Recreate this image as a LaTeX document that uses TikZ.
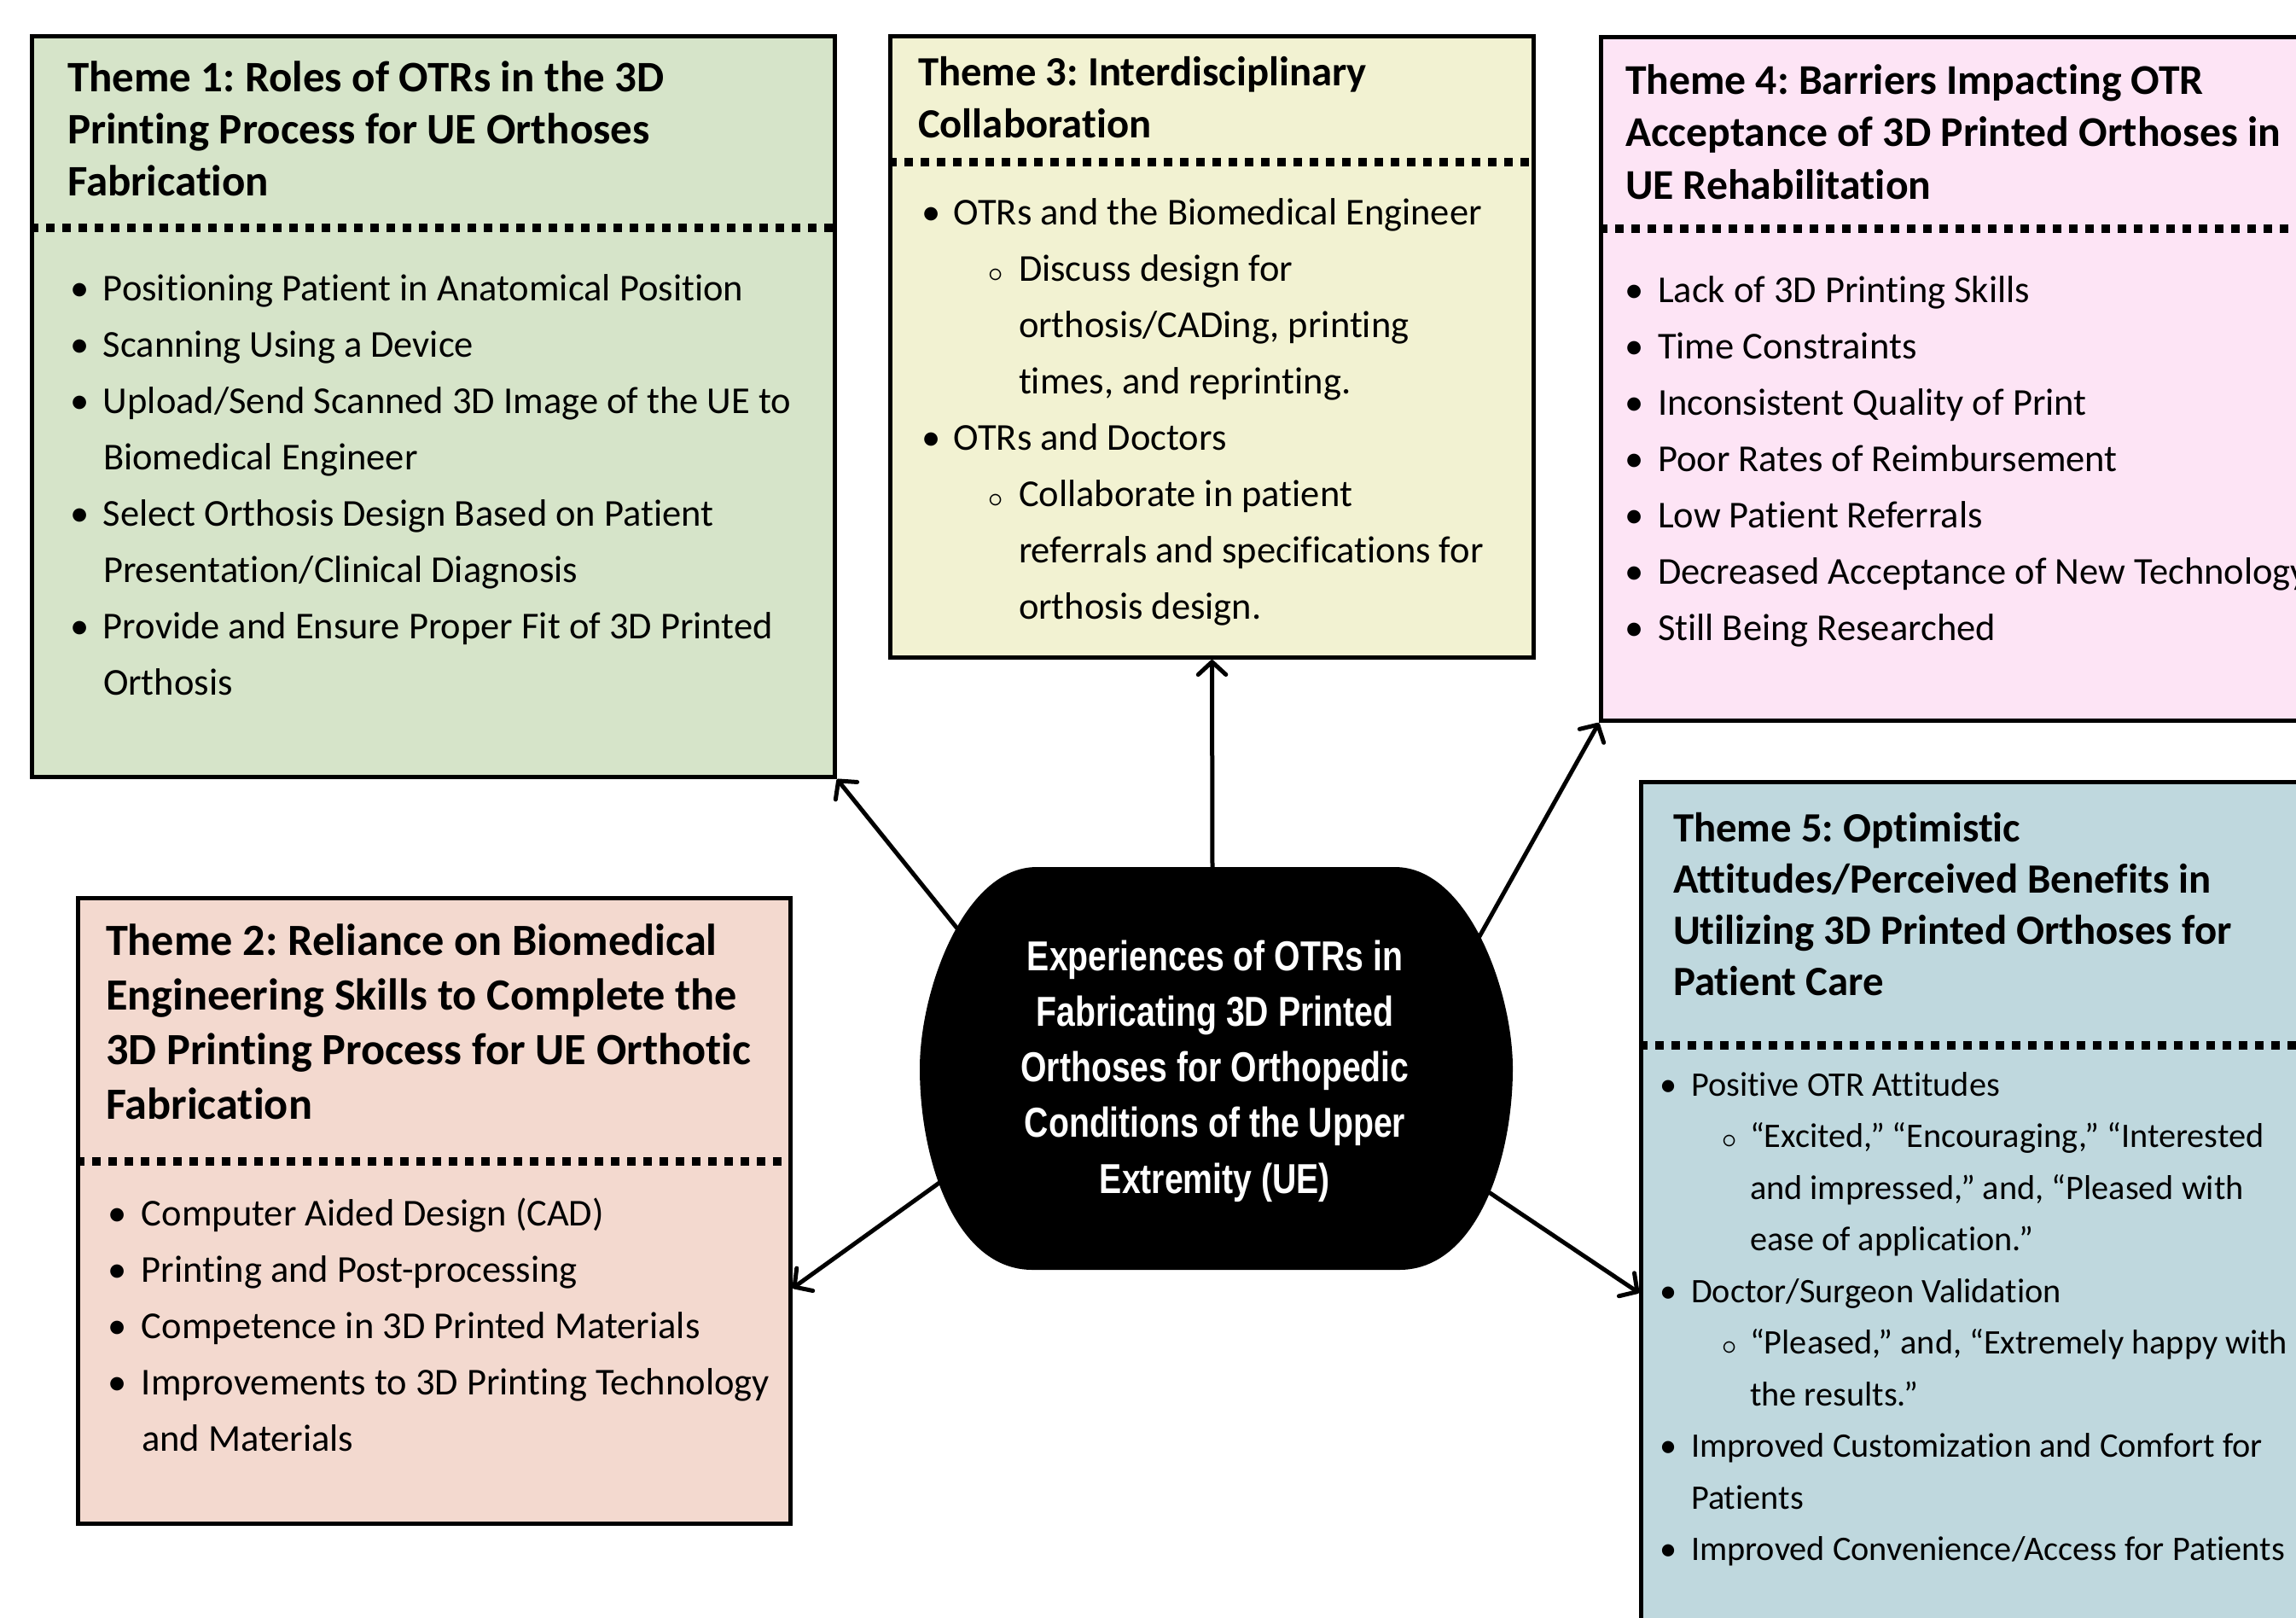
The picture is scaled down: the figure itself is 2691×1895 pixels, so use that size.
\documentclass[tikz,border=0pt]{standalone}
\usepackage{fontspec}
\setmainfont{Carlito}[Ligatures={NoCommon,NoRare}]
\newfontfamily\corefont[FakeStretch=0.8]{Liberation Sans}
\usetikzlibrary{arrows.meta}
\frenchspacing
\definecolor{gOne}{HTML}{D6E4C9}
\definecolor{gTwo}{HTML}{F3D9CF}
\definecolor{gThree}{HTML}{F2F2D2}
\definecolor{gFour}{HTML}{FDE4F5}
\definecolor{gFive}{HTML}{BFD8DE}
\newlength\lenBa \newlength\lenBb \newlength\lenBc
\newcommand\itA[1]{\par\noindent\hangindent=\lenBa\hangafter=1\makebox[\lenBa][l]{•}#1}
\newcommand\itB[1]{\par\noindent\hangindent=\lenBc\hangafter=1\hspace*{\lenBb}\makebox[\dimexpr\lenBc-\lenBb\relax][l]{$\scriptstyle\circ$}#1}
\tikzset{
  themebox/.style={draw=black, line width=1pt, inner sep=0pt, anchor=north west},
  divider/.style={line width=2pt, dash pattern=on 2pt off 1.8pt},
  link/.style={line width=1pt, -{Straight Barb[length=3pt,width=6.5pt,round]}},
  txt/.style={inner sep=0pt, anchor=base west, align=left},
}
\begin{document}
\begin{tikzpicture}[x=0.2pt,y=-0.2pt]
\path[use as bounding box] (0,0) rectangle (2691,1895);
\clip (0,0) rectangle (2691,1895);
% theme boxes
\node[themebox, fill=gOne,   minimum width=188.2pt, minimum height=173.6pt] (b1) at (35,40) {};
\node[themebox, fill=gThree, minimum width=150.8pt, minimum height=145.6pt] (b3) at (1041,40) {};
\node[themebox, fill=gFour,  minimum width=171.2pt, minimum height=160.2pt] (b4) at (1874,41) {};
\node[themebox, fill=gFive,  minimum width=161.8pt, minimum height=203.2pt] (b5) at (1921,914) {};
\node[themebox, fill=gTwo,   minimum width=167pt,   minimum height=146.6pt] (b2) at (89,1050) {};
% dividers
\draw[divider] ([yshift=-45.4pt]b1.north west) -- ([yshift=-45.4pt]b1.north east);
\draw[divider] ([yshift=-30pt]b3.north west) -- ([yshift=-30pt]b3.north east);
\draw[divider] ([yshift=-45.4pt]b4.north west) -- ([yshift=-45.4pt]b4.north east);
\draw[divider] ([yshift=-62.2pt]b5.north west) -- ([yshift=-62.2pt]b5.north east);
\draw[divider] ([yshift=-62.2pt]b2.north west) -- ([yshift=-62.2pt]b2.north east);
% titles
\node[txt] (t1) at (78,107) {\parbox[t]{200pt}{\fontsize{10.2pt}{12.2pt}\selectfont\bfseries Theme 1: Roles of OTRs in the 3D\\Printing Process for UE Orthoses\\Fabrication}};
\node[txt] (t3) at (1075,100) {\parbox[t]{200pt}{\fontsize{9.74pt}{12.3pt}\selectfont\bfseries Theme 3: Interdisciplinary\\Collaboration}};
\node[txt] (t4) at (1904,110) {\parbox[t]{200pt}{\fontsize{9.94pt}{12.3pt}\selectfont\bfseries Theme 4: Barriers Impacting OTR\\Acceptance of 3D Printed Orthoses in\\UE Rehabilitation}};
\node[txt] (t5) at (1960,986) {\parbox[t]{200pt}{\fontsize{9.76pt}{12pt}\selectfont\bfseries Theme 5: Optimistic\\Attitudes/Perceived Benefits in\\Utilizing 3D Printed Orthoses for\\Patient Care}};
\node[txt] (t2) at (123,1119) {\parbox[t]{200pt}{\fontsize{10.46pt}{12.8pt}\selectfont\bfseries Theme 2: Reliance on Biomedical\\Engineering Skills to Complete the\\3D Printing Process for UE Orthotic\\Fabrication}};
% bodies
\node[txt] (l1) at (81,352) {\parbox[t]{220pt}{\raggedright\fontsize{8.9pt}{13.2pt}\selectfont\setlength\lenBa{7.8pt}%
\itA{Positioning Patient in Anatomical Position}
\itA{Scanning Using a Device}
\itA{Upload/Send Scanned 3D Image of the UE to\newline Biomedical Engineer}
\itA{Select Orthosis Design Based on Patient\newline Presentation/Clinical Diagnosis}
\itA{Provide and Ensure Proper Fit of 3D Printed\newline Orthosis}}};
\node[txt] (l3) at (1079,263) {\parbox[t]{220pt}{\raggedright\fontsize{8.9pt}{13.2pt}\selectfont\setlength\lenBa{7.6pt}\setlength\lenBb{15.4pt}\setlength\lenBc{22.8pt}%
\itA{OTRs and the Biomedical Engineer}
\itB{Discuss design for\newline orthosis/CADing, printing\newline times, and reprinting.}
\itA{OTRs and Doctors}
\itB{Collaborate in patient\newline referrals and specifications for\newline orthosis design.}}};
\node[txt] (l4) at (1903,354) {\parbox[t]{220pt}{\raggedright\fontsize{8.9pt}{13.2pt}\selectfont\setlength\lenBa{7.8pt}%
\itA{Lack of 3D Printing Skills}
\itA{Time Constraints}
\itA{Inconsistent Quality of Print}
\itA{Poor Rates of Reimbursement}
\itA{Low Patient Referrals}
\itA{Decreased Acceptance of New Technology}
\itA{Still Being Researched}}};
\node[txt] (l5) at (1944,1284) {\parbox[t]{220pt}{\raggedright\fontsize{8.06pt}{12.1pt}\selectfont\setlength\lenBa{7.4pt}\setlength\lenBb{14.4pt}\setlength\lenBc{21.2pt}%
\itA{Positive OTR Attitudes}
\itB{“Excited,” “Encouraging,” “Interested\newline and impressed,” and, “Pleased with\newline ease of application.”}
\itA{Doctor/Surgeon Validation}
\itB{“Pleased,” and, “Extremely happy with\newline the results.”}
\itA{Improved Customization and Comfort for\newline Patients}
\itA{Improved Convenience/Access for Patients}}};
\node[txt] (l2) at (125,1436) {\parbox[t]{220pt}{\raggedright\fontsize{8.9pt}{13.2pt}\selectfont\setlength\lenBa{8pt}%
\itA{Computer Aided Design (CAD)}
\itA{Printing and Post-processing}
\itA{Competence in 3D Printed Materials}
\itA{Improvements to 3D Printing Technology\newline and Materials}}};
% arrow start points on the central shape
\coordinate (s1) at (1130,1098);
\coordinate (s3) at (1421,1022);
\coordinate (s4) at (1728,1108);
\coordinate (s2) at (1112,1378);
\coordinate (s5) at (1733,1389);
\draw[link] (s1) -- (b1.south east);
\draw[link] (s3) -- (b3.south);
\draw[link] (s4) -- (b4.south west);
\draw[link] (s2) -- ([yshift=-18.1pt]b2.east);
\draw[link] (s5) -- ([yshift=-120.2pt]b5.north west);
% central shape
\fill[black] (1215,1016) -- (1635,1016) .. controls (1720,1016) and (1773,1160) .. (1773,1252)
  .. controls (1773,1360) and (1730,1488) .. (1640,1488) -- (1210,1488)
  .. controls (1120,1488) and (1078,1360) .. (1078,1252)
  .. controls (1078,1160) and (1130,1016) .. (1215,1016) -- cycle;
\node[inner sep=0pt, anchor=base, text=white] (core) at (1424,1137) {\parbox[t]{130pt}{\centering\corefont\bfseries\fontsize{9.8pt}{13.06pt}\selectfont Experiences of OTRs in\\Fabricating 3D Printed\\Orthoses for Orthopedic\\Conditions of the Upper\\Extremity (UE)}};
\end{tikzpicture}
\end{document}
